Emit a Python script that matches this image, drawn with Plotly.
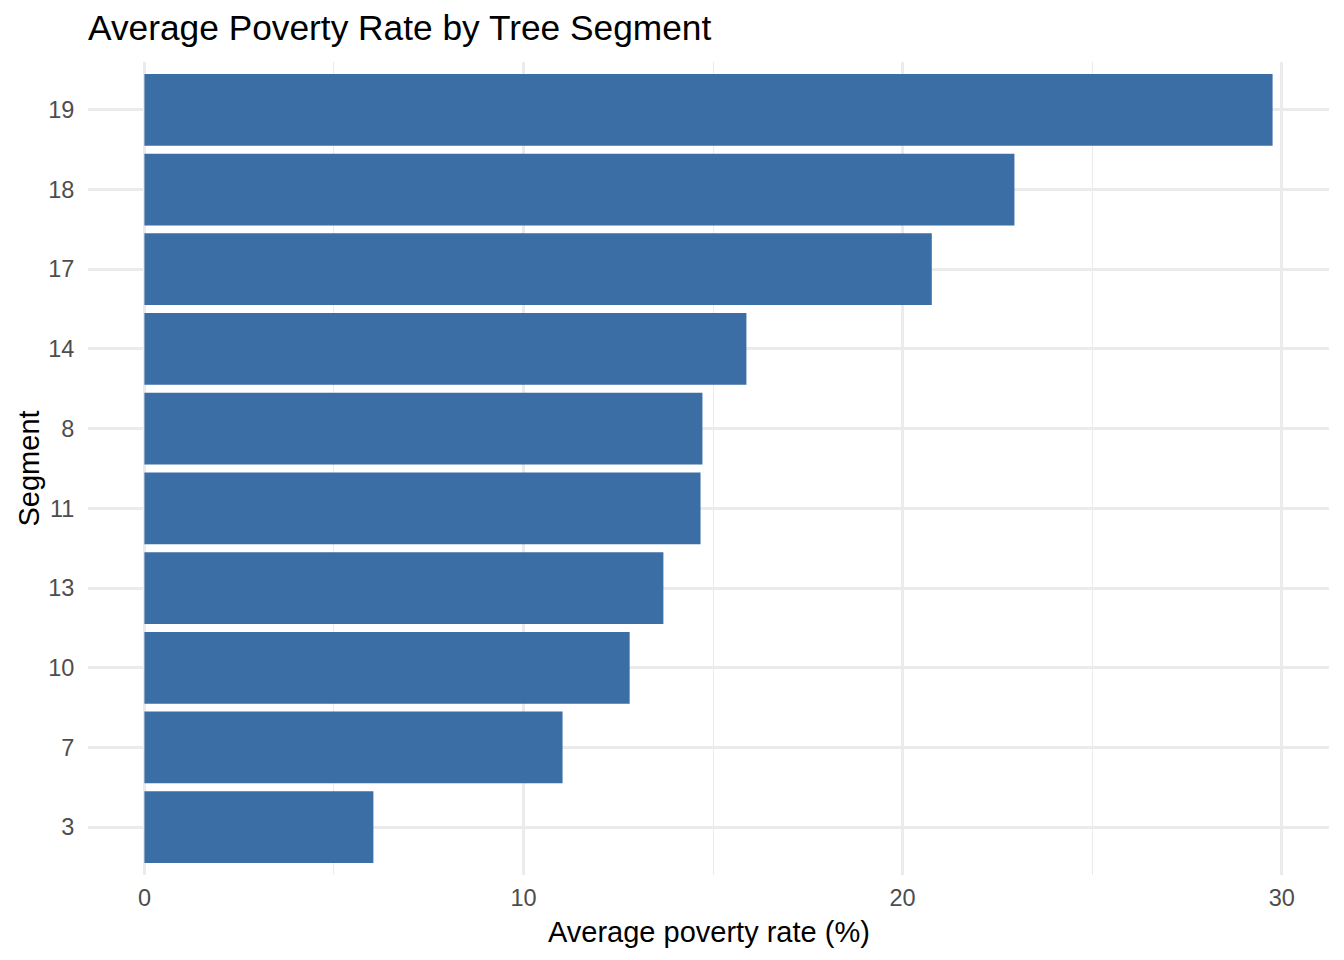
import plotly.graph_objects as go

segments = ["3", "7", "10", "13", "11", "8", "14", "17", "18", "19"]
poverty = [6.04, 11.03, 12.80, 13.69, 14.67, 14.72, 15.88, 20.77, 22.95, 29.76]
x_ticks = [0, 10, 20, 30]

W, H = 1344, 960
L, R, T, B = 88, 15, 62, 85
pw, ph = W - L - R, H - T - B

xmax = max(poverty)
FONT = "Liberation Sans, Arial, sans-serif"
GRID = "#EBEBEB"

fig = go.Figure(go.Bar(
    x=poverty, y=segments, orientation="h",
    marker=dict(color="#3A6EA5", line=dict(width=0)),
    width=0.9,
))

fig.update_layout(
    width=W, height=H,
    margin=dict(l=L, r=R, t=T, b=B),
    paper_bgcolor="white", plot_bgcolor="white",
    showlegend=False,
    font=dict(family=FONT),
    title=dict(text="Average Poverty Rate by Tree Segment",
               x=0, xref="paper", xanchor="left",
               y=1 - 28 / H, yref="container", yanchor="middle",
               font=dict(size=35.3, color="black", family=FONT)),
    xaxis=dict(
        range=[-0.05 * xmax, 1.05 * xmax],
        tickvals=x_ticks, ticktext=[str(v) for v in x_ticks],
        showgrid=True, gridcolor=GRID, gridwidth=2.7,
        minor=dict(dtick=5, tick0=0, showgrid=True, gridcolor=GRID, gridwidth=1.3),
        zeroline=False, showline=False,
        ticks="outside", ticklen=2, tickcolor="rgba(0,0,0,0)",
        tickfont=dict(size=23.5, color="#4D4D4D", family=FONT),
    ),
    yaxis=dict(
        type="category", categoryorder="array", categoryarray=segments,
        range=[-0.6, len(segments) - 0.4],
        showgrid=True, gridcolor=GRID, gridwidth=2.7,
        zeroline=False, showline=False,
        ticks="outside", ticklen=8, tickcolor="rgba(0,0,0,0)",
        tickfont=dict(size=23.5, color="#4D4D4D", family=FONT),
    ),
    annotations=[
        dict(text="Average poverty rate (%)", xref="paper", yref="paper",
             x=0.5, y=-57 / ph, xanchor="center", yanchor="middle",
             showarrow=False, font=dict(size=29, color="black", family=FONT)),
        dict(text="Segment", xref="paper", yref="paper",
             x=-60 / pw, y=0.5, xanchor="center", yanchor="middle",
             textangle=-90, showarrow=False,
             font=dict(size=29, color="black", family=FONT)),
    ],
)

fig.write_html("out.html", config={"displayModeBar": False},
               post_script="document.body.style.margin='0';")
